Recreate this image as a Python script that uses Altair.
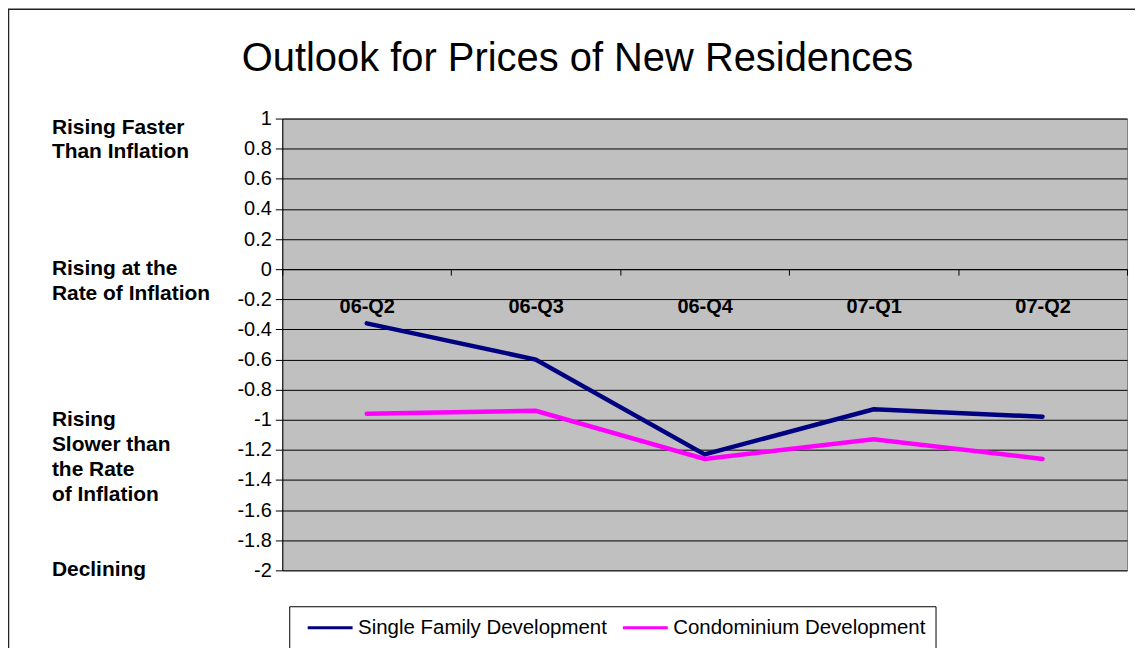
import altair as alt
import pandas as pd

FONT = "Liberation Sans"

chart_title = "Outlook for Prices of New Residences"
quarters = ["06-Q2", "06-Q3", "06-Q4", "07-Q1", "07-Q2"]
single_family = [-0.36, -0.60, -1.23, -0.93, -0.98]
condominium = [-0.96, -0.94, -1.26, -1.13, -1.26]
series_names = ["Single Family Development", "Condominium Development"]
series_colors = ["#000080", "#FF00FF"]
y_ticks = [1.0, 0.8, 0.6, 0.4, 0.2, 0.0, -0.2, -0.4, -0.6, -0.8,
           -1.0, -1.2, -1.4, -1.6, -1.8, -2.0]
annotation_texts = ["Rising Faster\nThan Inflation",
                    "Rising at the\nRate of Inflation",
                    "Rising\nSlower than\nthe Rate\nof Inflation",
                    "Declining"]
annotation_levels = [0.94, 0.0, -1.0, -2.0]

W, H = 847, 453

df = pd.DataFrame({
    "quarter": quarters * 2,
    "value": single_family + condominium,
    "series": [series_names[0]] * len(quarters) + [series_names[1]] * len(quarters),
})
ann_df = pd.DataFrame({"label": annotation_texts, "level": annotation_levels})
title_df = pd.DataFrame({"t": [chart_title]})
frame_df = pd.DataFrame({"k": [0]})

y_scale = alt.Scale(domain=[-2, 1], nice=False, zero=False)
y_axis = alt.Axis(title=None, values=y_ticks, grid=True, gridColor="black",
                  gridWidth=1, gridOpacity=1, tickSize=7, tickColor="black",
                  domainColor="black", labelFont=FONT, labelFontSize=20,
                  labelColor="black", labelPadding=4,
                  labelExpr="toString(round(datum.value*10)/10)")

lines = alt.Chart(df).mark_line(strokeWidth=4.5, strokeCap="round", strokeJoin="miter").encode(
    x=alt.X("quarter:N", sort=quarters, bandPosition=0.5,
            scale=alt.Scale(type="band", paddingInner=0, paddingOuter=0),
            axis=alt.Axis(title=None, orient="bottom", offset=-302, tickBand="extent",
                          labelAngle=0, labelFont=FONT, labelFontSize=20, labelFontWeight="bold",
                          labelColor="black", labelPadding=31, labelBaseline="middle",
                          tickSize=6, tickColor="black", domainColor="black", domainWidth=1,
                          grid=False)),
    y=alt.Y("value:Q", scale=y_scale, axis=y_axis),
    color=alt.Color("series:N", sort=series_names,
                    scale=alt.Scale(domain=series_names, range=series_colors),
                    legend=alt.Legend(title=None, orient="none", legendX=7, legendY=489,
                                      direction="horizontal", columns=2,
                                      strokeColor="black", fillColor="white", padding=10,
                                      symbolType="M-2.25,0H2.25", symbolSize=400,
                                      symbolStrokeWidth=3, symbolOffset=19.5,
                                      labelFont=FONT, labelFontSize=20.5, labelColor="black",
                                      labelOffset=16.5, labelLimit=0, columnPadding=7)),
)

ann = alt.Chart(ann_df).mark_text(
    align="left", baseline="middle", lineBreak="\n", lineHeight=25,
    font=FONT, fontSize=21, fontWeight="bold", color="black",
).encode(
    x=alt.value(-231),
    y=alt.Y("level:Q", scale=y_scale, axis=y_axis),
    text="label:N",
)

title_mark = alt.Chart(title_df).mark_text(
    align="center", baseline="alphabetic", font=FONT, fontSize=40, color="black",
).encode(x=alt.value(296), y=alt.value(-48), text="t:N")

frame = alt.Chart(frame_df).mark_rect(fillOpacity=0, stroke="#222222", strokeWidth=1.5).encode(
    x=alt.value(-274.5), x2=alt.value(2000), y=alt.value(-109.5), y2=alt.value(2000)
)

chart = alt.layer(lines, ann, title_mark, frame).properties(
    width=W, height=H,
    autosize=alt.AutoSizeParams(type="none"),
    padding={"left": 275, "top": 110, "right": 8, "bottom": 77},
    background="white",
).configure_view(fill="#C0C0C0", stroke="#808080", strokeWidth=1)

chart.save("out.html", embed_options={"renderer": "svg", "actions": False})
